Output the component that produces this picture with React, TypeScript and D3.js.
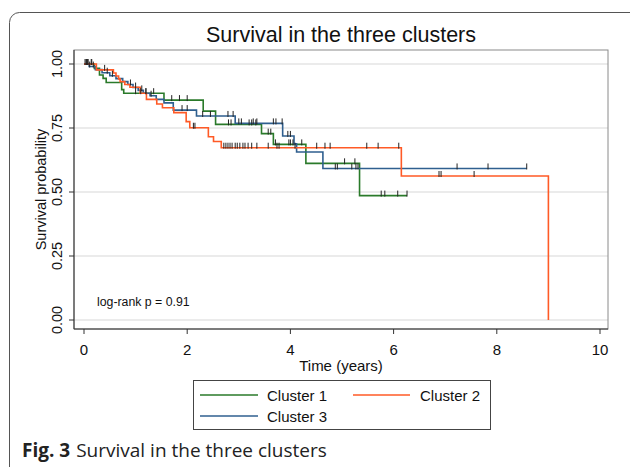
import React from "react";
import * as d3 from "d3";

// Kaplan-Meier steps (time in years, survival probability)
const cluster1Times = [0, 0.2, 0.3, 0.37, 0.43, 0.73, 0.77, 1.55, 2.31, 2.55, 3.44, 3.67, 4.3, 5.34];
const cluster1Surv = [1, 0.983, 0.957, 0.944, 0.928, 0.9, 0.886, 0.859, 0.816, 0.764, 0.728, 0.686, 0.612, 0.486];
const cluster1End = 6.26;
const cluster1Censored = [0.05, 0.15, 1.0, 1.1, 1.2, 1.35, 1.7, 1.85, 2.0, 2.8, 2.85, 3.2, 3.25, 3.33, 3.57, 3.62, 3.71, 3.97, 4.0, 4.05, 4.22, 5.05, 5.25, 5.76, 5.83, 6.08, 6.26];

const cluster2Times = [0, 0.24, 0.57, 0.62, 0.67, 0.7, 0.79, 0.89, 1.09, 1.21, 1.41, 1.52, 1.74, 1.98, 2.05, 2.41, 2.51, 2.66, 6.15, 9.0];
const cluster2Surv = [1, 0.977, 0.965, 0.953, 0.942, 0.931, 0.92, 0.909, 0.886, 0.862, 0.844, 0.829, 0.81, 0.775, 0.751, 0.716, 0.697, 0.673, 0.5625, 0];
const cluster2End = 9.0;
const cluster2Censored = [0.04, 0.08, 0.14, 0.4, 2.12, 2.15, 2.71, 2.75, 2.79, 2.83, 2.87, 2.93, 2.97, 3.02, 3.08, 3.12, 3.18, 3.25, 3.35, 3.57, 3.74, 3.78, 4.09, 4.51, 4.67, 4.77, 5.48, 5.7, 6.1, 6.88, 6.92, 7.56];

const cluster3Times = [0, 0.1, 0.22, 0.35, 0.5, 0.62, 0.75, 0.85, 0.95, 1.05, 1.15, 1.28, 1.4, 1.55, 1.73, 2.18, 2.93, 3.85, 4.07, 4.12, 4.63];
const cluster3Surv = [1, 0.99, 0.978, 0.966, 0.954, 0.943, 0.931, 0.92, 0.908, 0.897, 0.886, 0.876, 0.862, 0.848, 0.82, 0.797, 0.768, 0.719, 0.688, 0.656, 0.592];
const cluster3End = 8.58;
const cluster3Censored = [0.02, 0.07, 0.11, 0.18, 0.45, 0.55, 0.9, 1.0, 1.12, 1.2, 1.3, 1.9, 2.0, 2.3, 2.45, 2.79, 2.89, 3.0, 3.05, 3.28, 3.35, 3.67, 3.72, 3.84, 3.95, 4.0, 4.87, 4.91, 5.19, 5.27, 5.31, 7.23, 7.83, 8.58];

const xTicks = [0, 2, 4, 6, 8, 10];
const yTicks = [0, 0.25, 0.5, 0.75, 1];

const colors = { c1: "#2a7a2a", c2: "#ff5a26", c3: "#2f5f8f" };
const FONT = "'Liberation Sans', Arial, sans-serif";

type Series = { key: string; times: number[]; surv: number[]; end: number; cens: number[]; color: string };

const series: Series[] = [
  { key: "c1", times: cluster1Times, surv: cluster1Surv, end: cluster1End, cens: cluster1Censored, color: colors.c1 },
  { key: "c3", times: cluster3Times, surv: cluster3Surv, end: cluster3End, cens: cluster3Censored, color: colors.c3 },
  { key: "c2", times: cluster2Times, surv: cluster2Surv, end: cluster2End, cens: cluster2Censored, color: colors.c2 },
];

export default function App() {
  const width = 630;
  const height = 467;
  const frame = { left: 74, right: 608, top: 50, bottom: 329 };

  const x = d3.scaleLinear().domain([0, 10]).range([84, 600]);
  const y = d3.scaleLinear().domain([0, 1]).range([320, 64]);

  const stepLine = d3
    .line<[number, number]>()
    .x(d => x(d[0]))
    .y(d => y(d[1]))
    .curve(d3.curveStepAfter);

  // survival value at time t (right-continuous step function)
  const survAt = (s: Series, t: number) => {
    const i = d3.bisectRight(s.times, t) - 1;
    return s.surv[Math.max(0, i)];
  };

  return (
    <svg width={width} height={height} style={{ position: "fixed", left: 0, top: 0, background: "#fff" }}>
      <rect x={9.5} y={12.5} width={660} height={480} rx={10} fill="#fff" stroke="#555" strokeWidth={1} />

      <text x={341} y={42} textAnchor="middle" fontFamily={FONT} fontSize={21.5} fill="#111">
        Survival in the three clusters
      </text>

      {/* grid */}
      {yTicks.map(t => (
        <line key={"g" + t} x1={frame.left} x2={frame.right} y1={y(t)} y2={y(t)} stroke="#e4e4e4" strokeWidth={1.5} />
      ))}

      <rect x={frame.left} y={frame.top} width={frame.right - frame.left} height={frame.bottom - frame.top} fill="none" stroke="#8a8a8a" strokeWidth={1} />

      {/* axes */}
      <line x1={frame.left} x2={frame.left} y1={frame.top} y2={frame.bottom} stroke="#333" strokeWidth={1} />
      <line x1={frame.left} x2={frame.right} y1={frame.bottom} y2={frame.bottom} stroke="#333" strokeWidth={1} />
      {yTicks.map(t => (
        <g key={"yt" + t}>
          <line x1={frame.left - 5} x2={frame.left} y1={y(t)} y2={y(t)} stroke="#333" />
          <text
            transform={`translate(${62},${y(t)}) rotate(-90)`}
            textAnchor="middle"
            fontFamily={FONT}
            fontSize={14.5}
            fill="#111"
          >
            {d3.format(".2f")(t)}
          </text>
        </g>
      ))}
      {xTicks.map(t => (
        <g key={"xt" + t}>
          <line x1={x(t)} x2={x(t)} y1={frame.bottom} y2={frame.bottom + 5} stroke="#333" />
          <text x={x(t)} y={355} textAnchor="middle" fontFamily={FONT} fontSize={15} fill="#111">
            {t}
          </text>
        </g>
      ))}
      <text x={341} y={371} textAnchor="middle" fontFamily={FONT} fontSize={15} fill="#111">
        Time (years)
      </text>
      <text transform={`translate(46,${(frame.top + frame.bottom) / 2}) rotate(-90)`} textAnchor="middle" fontFamily={FONT} fontSize={14.5} fill="#111">
        Survival probability
      </text>

      {/* curves */}
      {series.map(s => {
        const pts: [number, number][] = s.times.map((t, i) => [t, s.surv[i]]);
        pts.push([s.end, s.surv[s.surv.length - 1]]);
        return <path key={s.key} d={stepLine(pts) || ""} fill="none" stroke={s.color} strokeWidth={1.6} />;
      })}
      {series.map(s =>
        s.cens.map((t, i) => {
          const v = survAt(s, t);
          return <line key={s.key + "c" + i} x1={x(t)} x2={x(t)} y1={y(v) - 5} y2={y(v) + 1} stroke="#222" strokeWidth={1} />;
        })
      )}

      <text x={97} y={306} fontFamily={FONT} fontSize={12.3} fill="#111">
        log-rank p = 0.91
      </text>

      {/* legend */}
      <rect x={193.5} y={380.5} width={297} height={49} fill="#fff" stroke="#444" strokeWidth={1} />
      <line x1={200} x2={258} y1={395} y2={395} stroke={colors.c1} strokeWidth={1.6} />
      <text x={267} y={400.5} fontFamily={FONT} fontSize={15} fill="#111">Cluster 1</text>
      <line x1={353} x2={410} y1={395} y2={395} stroke={colors.c2} strokeWidth={1.6} />
      <text x={420} y={400.5} fontFamily={FONT} fontSize={15} fill="#111">Cluster 2</text>
      <line x1={200} x2={258} y1={416} y2={416} stroke={colors.c3} strokeWidth={1.6} />
      <text x={267} y={421.5} fontFamily={FONT} fontSize={15} fill="#111">Cluster 3</text>

      <text x={22} y={457} fontFamily="'Open Sans', 'Noto Sans', sans-serif" fontSize={19} fill="#222">
        <tspan fontWeight="bold">Fig. 3</tspan>
        <tspan dx={6}>Survival in the three clusters</tspan>
      </text>
    </svg>
  );
}
